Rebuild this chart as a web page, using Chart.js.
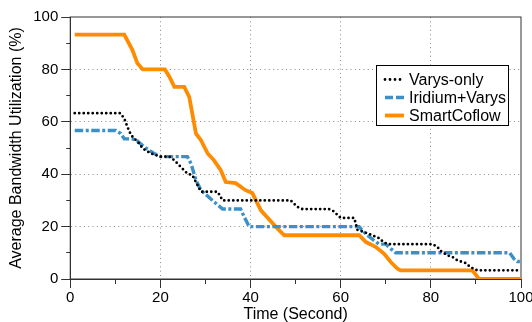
<!DOCTYPE html>
<html>
<head>
<meta charset="utf-8">
<script src="https://cdn.jsdelivr.net/npm/chart.js@4.4.1/dist/chart.umd.min.js"></script>
<style>
  html, body { margin: 0; padding: 0; background: #fff; }
  #wrap { width: 532px; height: 322px; }
</style>
</head>
<body>
<div id="wrap"><canvas id="bandwidthChart" width="532" height="322"></canvas></div>
<script>
// Varys-only
const varysTime = [1, 11.1, 12.0, 12.7, 13.5, 15.3, 16.1, 17.9, 20.1, 22.0, 23.1, 24.5, 26.0, 27.1, 29.0, 32.7, 33.8, 48.9, 50.4, 51.5, 57.4, 58.4, 60.0, 63.0, 63.7, 65.2, 67.0, 68.5, 69.5, 70.4, 80.4, 81.5, 82.0, 83.7, 84.8, 85.9, 87.7, 88.8, 90.3, 100];
const varysUtil = [63.3, 63.3, 61.2, 58, 54.9, 51.7, 49.8, 47.9, 46.7, 46.7, 45.3, 42.8, 40.2, 39.6, 33.3, 33.3, 30, 30, 27.5, 26.7, 26.7, 25.9, 23.3, 23.3, 18.8, 17.9, 16.7, 15.6, 14.1, 13.3, 13.3, 12.2, 10.9, 9.0, 8.4, 7.1, 6.1, 4.5, 3.3, 3.3];

// Iridium+Varys
const iridiumTime = [1, 10.1, 11.2, 12.0, 13.8, 14.9, 16.4, 18.6, 20.1, 26.0, 26.8, 27.9, 29.0, 31.2, 33.8, 37.8, 38.6, 39.7, 64.1, 64.8, 65.9, 67.4, 68.5, 70.0, 71.1, 72.2, 97.5, 98.4, 99.2, 100];
const iridiumUtil = [56.7, 56.7, 55.5, 53.5, 53.5, 52.7, 50.4, 47.9, 46.7, 46.7, 44, 37.7, 33.9, 30.5, 26.7, 26.7, 23.7, 20, 20, 18.6, 16.7, 14.7, 13.3, 13.3, 11.6, 10, 10, 7.8, 6.7, 6.7];

// SmartCoflow
const smartTime = [1, 12.0, 13.8, 14.9, 16.1, 21.0, 22.0, 23.1, 25.3, 26.4, 27.9, 29.0, 30.5, 31.9, 33.4, 34.5, 36.7, 38.9, 40.4, 42.3, 46.0, 47.5, 64.1, 65.6, 66.7, 67.8, 69.6, 71.1, 72.6, 73.3, 89.2, 90.7, 100];
const smartUtil = [93.3, 93.3, 87.4, 82.3, 80, 80, 77.2, 73.3, 73.3, 69.5, 55.5, 53, 47.9, 45.3, 41.5, 37, 36.6, 33.9, 32.8, 26.2, 19.2, 16.7, 16.7, 14.1, 13.2, 12.2, 9.7, 6.5, 3.9, 3.3, 3.3, 0, 0];

const seriesLabels = ['Varys-only', 'Iridium+Varys', 'SmartCoflow'];
const xTitle = 'Time (Second)';
const yTitle = 'Average Bandwidth Utilization (%)';

const FONT = "'Liberation Sans', Arial, Helvetica, sans-serif";

function toPoints(xs, ys) {
    return xs.map((x, i) => ({ x: x, y: ys[i] }));
}

const gridColor = (ctx) => {
    const v = ctx.tick ? ctx.tick.value : 0;
    return (v % 20 === 0 && v > 0 && v < 100) ? '#8a8a8a' : 'rgba(0,0,0,0)';
};

// dark frame around the plot area
const framePlugin = {
    id: 'frame',
    beforeDatasetsDraw(chart) {
        const a = chart.chartArea;
        const ctx = chart.ctx;
        ctx.save();
        ctx.strokeStyle = '#333';
        ctx.lineWidth = 1;
        ctx.strokeRect(a.left, a.top, a.right - a.left, a.bottom - a.top);
        ctx.restore();
    }
};

// boxed legend inside the plot
const boxLegendPlugin = {
    id: 'boxLegend',
    afterDraw(chart) {
        const ctx = chart.ctx;
        const left = 376, top = 65, w = 132, h = 60;
        ctx.save();
        ctx.fillStyle = '#fff';
        ctx.fillRect(left, top, w, h);
        ctx.strokeStyle = '#000';
        ctx.lineWidth = 1;
        ctx.strokeRect(left + 0.5, top + 0.5, w, h);
        chart.data.datasets.forEach((ds, i) => {
            const y = top + 14.5 + i * 18;
            ctx.save();
            ctx.strokeStyle = ds.borderColor;
            ctx.lineWidth = ds.borderWidth;
            ctx.lineCap = ds.borderCapStyle || 'butt';
            ctx.setLineDash(ds.legendDash || ds.borderDash || []);
            ctx.beginPath();
            ctx.moveTo(left + 9, y);
            ctx.lineTo(left + 28, y);
            ctx.stroke();
            ctx.restore();
            ctx.fillStyle = '#000';
            ctx.font = '16px ' + FONT;
            ctx.textBaseline = 'middle';
            ctx.textAlign = 'left';
            ctx.fillText(ds.label, left + 33, y + 1);
        });
        ctx.restore();
    }
};

const ctxBandwidth = document.getElementById('bandwidthChart');

const dataBandwidth = {
    datasets: [{
        label: seriesLabels[0],
        data: toPoints(varysTime, varysUtil),
        borderColor: '#000000',
        borderWidth: 2.8,
        borderDash: [0, 4.5],
        legendDash: [0, 5],
        borderCapStyle: 'round',
        pointRadius: 0,
        tension: 0,
        fill: false
    }, {
        label: seriesLabels[1],
        data: toPoints(iridiumTime, iridiumUtil),
        borderColor: 'rgb(60,144,200)',
        borderWidth: 3.4,
        borderDash: [8.5, 2.5, 3, 2.5],
        legendDash: [8, 3],
        pointRadius: 0,
        tension: 0,
        fill: false
    }, {
        label: seriesLabels[2],
        data: toPoints(smartTime, smartUtil),
        borderColor: 'rgb(255,140,0)',
        borderWidth: 3.8,
        pointRadius: 0,
        tension: 0,
        fill: false
    }]
};

const configBandwidth = {
    type: 'line',
    data: dataBandwidth,
    plugins: [framePlugin, boxLegendPlugin],
    options: {
        responsive: false,
        animation: false,
        layout: {
            padding: { left: 5, top: 17, right: 11, bottom: -1 }
        },
        plugins: {
            legend: { display: false },
            tooltip: { enabled: false }
        },
        scales: {
            x: {
                type: 'linear',
                min: 0,
                max: 100,
                afterFit: (scale) => { scale.paddingRight = 0; },
                ticks: {
                    stepSize: 10,
                    autoSkip: false,
                    maxRotation: 0,
                    padding: 2,
                    color: '#000',
                    font: { family: FONT, size: 15, lineHeight: 1 },
                    callback: (v) => (v % 20 === 0 ? v : '')
                },
                grid: {
                    color: gridColor,
                    tickColor: '#333',
                    tickLength: 9,
                    tickBorderDash: (ctx) => (ctx.tick && ctx.tick.value % 20 === 0 ? [] : [4, 20])
                },
                border: { display: true, color: '#333', width: 1, dash: [1, 3.3] },
                title: {
                    display: true,
                    text: xTitle,
                    color: '#000',
                    padding: { top: 0, bottom: 0 },
                    font: { family: FONT, size: 16, lineHeight: 1 }
                }
            },
            y: {
                min: 0,
                max: 100,
                ticks: {
                    stepSize: 10,
                    autoSkip: false,
                    padding: 3,
                    color: '#000',
                    font: { family: FONT, size: 15 },
                    callback: (v) => (v % 20 === 0 ? v : '')
                },
                grid: {
                    color: gridColor,
                    tickColor: '#333',
                    tickLength: 9,
                    tickBorderDash: (ctx) => (ctx.tick && ctx.tick.value % 20 === 0 ? [] : [0, 5, 4, 20])
                },
                border: { display: true, color: '#333', width: 1, dash: [1, 3.3] },
                title: {
                    display: true,
                    text: yTitle,
                    color: '#000',
                    padding: { top: 2, bottom: 4 },
                    font: { family: FONT, size: 16 }
                }
            }
        }
    }
};

const lineChartBandwidth = new Chart(ctxBandwidth, configBandwidth);
</script>
</body>
</html>
